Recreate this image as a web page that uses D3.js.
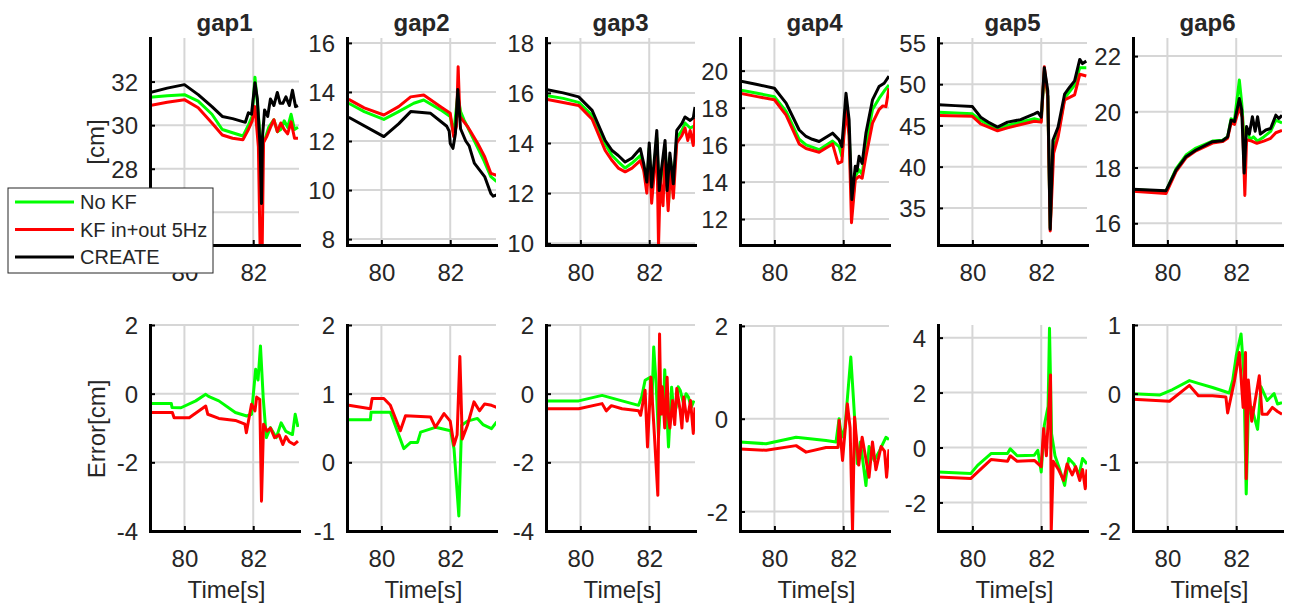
<!DOCTYPE html>
<html lang="en">
<head>
<meta charset="UTF-8">
<script src="https://d3js.org/d3.v7.min.js"></script>
<title>gap plots</title>
<style>
  body { margin: 0; background: #fff; }
  svg text { font-family: Arial, "Liberation Sans", sans-serif; fill: #262626; }
</style>
</head>
<body>
<svg id="chart" width="1290" height="610"></svg>
<script>
// ---- data (time [s], value) ----
const titles = ["gap1", "gap2", "gap3", "gap4", "gap5", "gap6"];
const xDomain = [79, 83.33];
const xTicks = [80, 82];

const topDomains = [[24.5, 34.0], [7.76, 16.2], [9.93, 18.19], [10.6, 21.76], [30.5, 55.6], [15.22, 22.65]];
const topTicks = [[26, 28, 30, 32], [8, 10, 12, 14, 16], [10, 12, 14, 16, 18], [12, 14, 16, 18, 20], [35, 40, 45, 50, 55], [16, 18, 20, 22]];
const botDomains = [[-4, 2], [-1, 2], [-4, 2], [-2.42, 2.02], [-3.04, 4.46], [-2, 1]];
const botTicks = [[-4, -2, 0, 2], [-1, 0, 1, 2], [-4, -2, 0, 2], [-2, 0, 2], [-2, 0, 2, 4], [-2, -1, 0, 1]];
// tick labels hidden behind the legend in the original
const hiddenTopLabels = [[26], [], [], [], [], []];

const legendLabels = ["No KF", "KF in+out 5Hz", "CREATE"];

// gap1
const gap1NoKF = [[79,31.28],[79.5,31.35],[80,31.4],[80.4,31.1],[80.8,30.5],[81.1,29.8],[81.4,29.65],[81.7,29.5],[81.86,30.0],[81.97,30.4],[82.05,32.2],[82.12,31.0],[82.2,29.5],[82.27,29.2],[82.35,29.4],[82.45,29.9],[82.6,30.25],[82.7,29.7],[82.8,29.8],[82.9,30.2],[83.0,29.9],[83.1,30.5],[83.2,29.8],[83.3,29.9]];
const gap1KF = [[79,30.9],[79.5,31.05],[80,31.17],[80.4,30.8],[80.8,30.1],[81.1,29.55],[81.4,29.4],[81.7,29.33],[81.86,29.8],[81.97,30.2],[82.05,30.85],[82.15,29.0],[82.2,24.3],[82.26,24.3],[82.3,29.2],[82.4,29.5],[82.5,29.9],[82.6,30.25],[82.7,29.7],[82.8,30.1],[82.9,29.8],[83.0,29.6],[83.1,30.15],[83.2,29.4],[83.3,29.4]];
const gap1Create = [[79,31.5],[79.5,31.7],[80,31.86],[80.4,31.4],[80.8,30.85],[81.1,30.4],[81.4,30.3],[81.77,30.13],[81.86,30.57],[81.95,30.5],[82.05,31.95],[82.12,31.2],[82.2,29.0],[82.24,26.4],[82.27,29.5],[82.33,30.7],[82.42,30.4],[82.5,31.2],[82.6,30.9],[82.7,31.5],[82.78,31.0],[82.86,31.0],[82.95,31.3],[83.05,30.9],[83.14,31.6],[83.23,30.85],[83.3,30.9]];
// gap2
const gap2NoKF = [[79.05,13.54],[79.5,13.2],[80.07,12.88],[80.5,13.2],[80.94,13.54],[81.23,13.67],[81.72,13.27],[82.0,13.0],[82.1,12.3],[82.22,13.9],[82.3,13.2],[82.4,12.86],[82.69,12.04],[82.98,11.2],[83.18,10.55],[83.35,10.35]];
const gap2KF = [[79.05,13.7],[79.5,13.35],[80.07,13.06],[80.5,13.4],[80.85,13.8],[81.23,13.88],[81.72,13.4],[82.0,13.13],[82.1,12.18],[82.18,12.6],[82.23,15.03],[82.28,13.0],[82.5,12.6],[82.8,11.9],[83.0,11.36],[83.18,10.68],[83.35,10.6]];
const gap2Create = [[79.05,12.97],[80.07,12.18],[80.5,12.7],[80.85,13.2],[81.43,13.13],[81.9,12.6],[81.97,12.4],[82.0,11.9],[82.08,11.7],[82.15,12.3],[82.22,14.1],[82.3,12.5],[82.45,12.0],[82.55,11.8],[82.7,11.1],[83.0,10.55],[83.18,9.86],[83.25,9.75],[83.35,9.8]];
// gap3
const gap3NoKF = [[79.0,15.9],[79.5,15.78],[79.95,15.62],[80.34,15.1],[80.72,13.95],[80.92,13.5],[81.1,13.25],[81.3,13.0],[81.5,13.2],[81.74,13.5],[81.84,13.0],[81.93,12.3],[82.0,13.8],[82.07,12.0],[82.14,13.0],[82.22,14.2],[82.29,11.9],[82.36,12.8],[82.46,13.8],[82.56,11.58],[82.62,13.3],[82.7,12.2],[82.8,14.2],[82.95,14.5],[83.04,14.8],[83.19,14.6],[83.33,14.7]];
const gap3KF = [[79.0,15.75],[79.5,15.62],[79.95,15.5],[80.34,14.95],[80.72,13.7],[80.92,13.3],[81.1,13.0],[81.3,12.85],[81.5,13.0],[81.74,13.3],[81.84,12.9],[81.93,12.0],[82.0,13.6],[82.07,11.6],[82.14,12.7],[82.22,14.1],[82.27,9.9],[82.32,12.5],[82.4,11.5],[82.46,13.6],[82.55,11.3],[82.62,13.0],[82.7,11.8],[82.8,14.0],[82.95,14.3],[83.04,14.6],[83.12,14.1],[83.19,14.5],[83.28,13.9],[83.33,15.0]];
const gap3Create = [[79.0,16.14],[79.5,16.0],[79.95,15.84],[80.34,15.3],[80.72,14.1],[80.92,13.7],[81.1,13.5],[81.3,13.24],[81.5,13.4],[81.74,13.78],[81.84,13.18],[81.93,12.44],[82.0,14.0],[82.07,12.24],[82.14,13.2],[82.22,14.5],[82.29,12.1],[82.36,13.0],[82.46,14.1],[82.52,12.1],[82.6,13.6],[82.7,12.37],[82.8,14.5],[82.95,14.78],[83.04,15.04],[83.19,14.9],[83.28,15.0],[83.33,15.44]];
// gap4
const gap4NoKF = [[78.99,18.96],[79.5,18.78],[80,18.6],[80.34,17.8],[80.72,16.3],[80.92,16.0],[81.3,15.74],[81.69,16.2],[81.88,15.9],[81.96,15.38],[82.08,18.07],[82.17,16.8],[82.25,12.5],[82.35,14.3],[82.46,14.66],[82.55,14.4],[82.66,16.0],[82.85,17.9],[83.04,18.5],[83.19,18.9],[83.33,19.23]];
const gap4KF = [[78.99,18.78],[79.5,18.6],[80,18.43],[80.34,17.6],[80.72,16.05],[80.92,15.8],[81.3,15.6],[81.69,16.05],[81.85,15.0],[81.96,15.1],[82.08,17.9],[82.17,16.5],[82.24,11.8],[82.35,14.13],[82.46,14.3],[82.55,14.2],[82.66,15.38],[82.85,17.17],[83.04,17.9],[83.15,18.1],[83.24,18.06],[83.33,19.05]];
const gap4Create = [[78.99,19.45],[79.5,19.25],[80,19.05],[80.34,18.25],[80.72,16.8],[80.92,16.45],[81.1,16.3],[81.3,16.18],[81.69,16.63],[81.88,16.27],[81.96,15.9],[82.08,18.78],[82.17,17.35],[82.25,13.05],[82.35,14.84],[82.4,14.6],[82.46,15.38],[82.55,15.0],[82.66,16.63],[82.85,18.42],[83.04,19.14],[83.19,19.32],[83.33,19.7]];
// gap5
const gap5NoKF = [[79.02,46.6],[80,46.4],[80.24,45.6],[80.73,44.5],[81.02,45.0],[81.8,45.8],[82.0,45.6],[82.09,51.5],[82.19,48.5],[82.26,32.6],[82.34,42.0],[82.49,44.0],[82.68,48.3],[82.97,49.9],[83.12,52.0],[83.31,52.0]];
const gap5KF = [[79.02,46.2],[80,46.1],[80.24,45.2],[80.73,44.35],[81.02,44.7],[81.8,45.5],[82.0,45.4],[82.09,52.1],[82.19,48.5],[82.26,32.2],[82.36,41.6],[82.49,43.6],[82.68,48.1],[82.97,48.7],[83.12,51.2],[83.31,51.0]];
const gap5Create = [[79.02,47.5],[79.5,47.4],[80,47.28],[80.24,46.0],[80.5,45.3],[80.73,44.8],[81.02,45.4],[81.4,45.7],[81.8,46.4],[81.9,46.6],[82.0,46.0],[82.09,52.0],[82.19,49.2],[82.26,32.4],[82.34,43.2],[82.49,44.8],[82.68,48.8],[82.82,49.6],[82.97,50.4],[83.12,53.0],[83.2,52.5],[83.31,52.8]];
// gap6
const gap6NoKF = [[78.99,17.2],[79.96,17.15],[80.25,17.95],[80.54,18.45],[80.83,18.7],[81.31,18.95],[81.6,18.98],[81.75,19.1],[81.85,19.75],[81.95,19.7],[82.09,21.14],[82.16,20.3],[82.23,19.0],[82.3,19.4],[82.4,19.0],[82.5,19.1],[82.62,18.95],[82.8,19.1],[83.0,19.3],[83.15,19.7],[83.33,19.6]];
const gap6KF = [[78.99,17.15],[79.96,17.07],[80.25,17.85],[80.54,18.35],[80.83,18.6],[81.31,18.88],[81.6,18.93],[81.75,19.05],[81.85,19.6],[81.95,19.55],[82.09,20.15],[82.18,19.8],[82.25,17.0],[82.3,19.0],[82.45,18.95],[82.6,18.87],[82.8,18.95],[83.0,19.05],[83.15,19.25],[83.33,19.33]];
const gap6Create = [[78.99,17.22],[79.96,17.17],[80.25,17.91],[80.54,18.39],[80.83,18.63],[81.31,18.93],[81.6,18.96],[81.75,19.1],[81.85,19.7],[81.95,19.65],[82.09,20.48],[82.16,20.06],[82.23,17.8],[82.3,19.47],[82.38,19.2],[82.47,19.82],[82.55,19.3],[82.62,19.82],[82.7,19.2],[82.86,19.35],[83.0,19.4],[83.15,19.88],[83.24,19.76],[83.33,19.88]];

// errors
const err1NoKF = [[79,-0.29],[79.62,-0.29],[79.64,-0.4],[79.9,-0.41],[80.33,-0.21],[80.62,-0.02],[80.7,-0.08],[81.0,-0.21],[81.48,-0.55],[81.81,-0.65],[81.95,-0.6],[82.07,0.71],[82.14,0.4],[82.21,1.39],[82.29,-0.12],[82.38,-1.28],[82.5,-0.99],[82.67,-1.28],[82.81,-0.85],[82.95,-1.1],[83.14,-1.19],[83.22,-0.6],[83.3,-0.97]];
const err1KF = [[79,-0.55],[79.65,-0.55],[79.7,-0.7],[80.14,-0.7],[80.62,-0.36],[80.68,-0.6],[81.0,-0.72],[81.48,-0.78],[81.76,-0.89],[81.8,-1.14],[81.95,-0.31],[82.05,-0.5],[82.1,-0.1],[82.19,-0.17],[82.24,-3.13],[82.3,-0.89],[82.4,-1.09],[82.5,-1.0],[82.62,-1.28],[82.75,-1.2],[82.86,-1.48],[82.95,-1.25],[83.05,-1.4],[83.19,-1.48],[83.3,-1.38]];
const err2NoKF = [[79.05,0.62],[79.68,0.62],[79.7,0.73],[80.26,0.73],[80.65,0.2],[80.85,0.29],[81.05,0.29],[81.14,0.44],[81.57,0.51],[82.01,0.46],[82.11,0.2],[82.25,-0.78],[82.33,0.54],[82.5,0.6],[82.79,0.64],[82.95,0.55],[83.2,0.49],[83.35,0.59]];
const err2KF = [[79.05,0.83],[79.68,0.78],[79.73,0.93],[80.07,0.93],[80.26,0.83],[80.55,0.46],[80.7,0.68],[81.43,0.66],[81.57,0.51],[81.82,0.71],[82.0,0.6],[82.11,0.25],[82.2,0.4],[82.28,1.54],[82.35,0.34],[82.5,0.54],[82.69,0.88],[82.85,0.75],[83.0,0.85],[83.2,0.83],[83.35,0.8]];
const err3NoKF = [[78.99,-0.21],[79.95,-0.21],[80.63,-0.05],[81.21,-0.21],[81.69,-0.34],[81.78,-0.1],[81.88,0.39],[82.03,0.48],[82.08,-0.2],[82.13,1.36],[82.2,0.3],[82.27,-1.26],[82.35,0.1],[82.41,-0.6],[82.45,0.7],[82.5,-0.3],[82.56,-1.55],[82.65,0.19],[82.72,-0.6],[82.78,-0.4],[82.84,0.2],[82.9,0.1],[83.0,-0.3],[83.07,0.0],[83.14,-0.1],[83.22,-0.4],[83.3,-0.2]];
const err3KF = [[78.99,-0.44],[79.95,-0.44],[80.63,-0.29],[80.75,-0.5],[80.9,-0.35],[81.21,-0.44],[81.69,-0.5],[81.75,-0.63],[81.88,0.1],[81.95,-1.55],[82.05,0.48],[82.15,-1.2],[82.25,-2.96],[82.3,1.74],[82.34,-0.6],[82.38,0.2],[82.45,-1.0],[82.52,0.48],[82.56,-0.7],[82.6,-1.0],[82.68,-0.2],[82.74,-0.9],[82.8,0.15],[82.9,-0.5],[82.95,-1.0],[83.0,-0.1],[83.1,-0.8],[83.2,-0.2],[83.28,-1.16],[83.33,-0.4]];
const err4NoKF = [[78.99,-0.5],[79.76,-0.54],[80.63,-0.4],[81.5,-0.47],[81.79,-0.5],[81.88,0],[81.95,-0.4],[82.05,-0.2],[82.22,1.33],[82.3,0.39],[82.41,-0.97],[82.5,-0.5],[82.66,-1.44],[82.75,-0.6],[82.9,-0.9],[83.05,-0.7],[83.24,-0.4],[83.33,-0.45]];
const err4KF = [[78.99,-0.65],[79.76,-0.68],[80.63,-0.58],[80.92,-0.72],[81.5,-0.62],[81.85,-0.62],[81.88,-0.04],[81.98,-0.9],[82.12,0.32],[82.2,-0.2],[82.27,-2.41],[82.33,0.03],[82.45,-1.0],[82.55,-0.4],[82.75,-1.26],[82.85,-0.5],[82.95,-1.1],[83.1,-0.6],[83.2,-0.7],[83.26,-1.26],[83.33,-0.66]];
const err5NoKF = [[78.98,-0.89],[79.95,-0.95],[80.15,-0.65],[80.54,-0.22],[81.02,-0.22],[81.1,-0.05],[81.3,-0.3],[81.8,-0.28],[81.9,-0.1],[82.0,-0.89],[82.09,0.81],[82.2,1.5],[82.24,4.34],[82.3,0.5],[82.4,-0.3],[82.53,-0.77],[82.68,-1.38],[82.8,-0.4],[82.95,-0.6],[83.1,-1.0],[83.2,-0.4],[83.33,-0.6]];
const err5KF = [[78.98,-1.07],[79.95,-1.13],[80.15,-0.9],[80.54,-0.44],[81.02,-0.5],[81.1,-0.3],[81.3,-0.5],[81.8,-0.47],[82.0,-0.7],[82.07,0.69],[82.15,-0.3],[82.27,2.64],[82.29,-3.08],[82.35,-0.5],[82.5,-0.8],[82.65,-1.2],[82.75,-0.6],[82.9,-1.0],[83.0,-0.7],[83.12,-1.2],[83.2,-0.8],[83.28,-1.5],[83.33,-0.8]];
const err6NoKF = [[78.99,0],[79.77,-0.02],[80.15,0.06],[80.64,0.19],[80.9,0.15],[81.31,0.09],[81.8,0.01],[81.9,0.2],[82.0,0.55],[82.14,0.87],[82.22,0.3],[82.29,-1.46],[82.35,-0.3],[82.45,-0.2],[82.62,-0.52],[82.72,0.1],[82.9,-0.1],[83.1,0.0],[83.2,-0.15],[83.33,-0.13]];
const err6KF = [[78.99,-0.08],[80.06,-0.11],[80.64,0.12],[80.9,-0.03],[81.31,-0.03],[81.7,-0.05],[81.75,-0.28],[81.95,0.19],[82.09,0.6],[82.2,-0.2],[82.27,0.6],[82.29,-1.24],[82.35,0.2],[82.45,-0.4],[82.67,0.26],[82.75,-0.3],[82.9,-0.3],[83.05,-0.2],[83.2,-0.26],[83.33,-0.3]];

const topSeries = [
  [gap1NoKF, gap1KF, gap1Create], [gap2NoKF, gap2KF, gap2Create], [gap3NoKF, gap3KF, gap3Create],
  [gap4NoKF, gap4KF, gap4Create], [gap5NoKF, gap5KF, gap5Create], [gap6NoKF, gap6KF, gap6Create]
];
const botSeries = [
  [err1NoKF, err1KF], [err2NoKF, err2KF], [err3NoKF, err3KF],
  [err4NoKF, err4KF], [err5NoKF, err5KF], [err6NoKF, err6KF]
];

// ---- layout ----
const colors = ["#00ff00", "#ff0000", "#000000"];
const colLeft = [150, 347, 546, 740, 938, 1133];
const colW = 149;
const rowTop = [38, 325];
const rowBot = [245, 531];
const fmt = d => String(d);   // plain hyphen minus like the original

const svg = d3.select("#chart");

function drawPanel(col, row, domain, ticks, series, hidden) {
  const x0 = colLeft[col], y0 = rowTop[row], h = rowBot[row] - rowTop[row];
  const x = d3.scaleLinear().domain(xDomain).range([0, colW]);
  const y = d3.scaleLinear().domain(domain).range([h, 0]);
  const g = svg.append("g").attr("transform", "translate(" + x0 + "," + y0 + ")");
  const cid = "clip" + row + "_" + col;

  g.append("clipPath").attr("id", cid).append("rect")
    .attr("x", 0).attr("y", 0).attr("width", colW).attr("height", h);

  // grid
  g.selectAll(".gy").data(ticks).enter().append("line")
    .attr("x1", 0).attr("x2", colW)
    .attr("y1", d => y(d)).attr("y2", d => y(d))
    .attr("stroke", "#d6d6d6").attr("stroke-width", 2);
  g.selectAll(".gx").data(xTicks).enter().append("line")
    .attr("x1", d => x(d)).attr("x2", d => x(d))
    .attr("y1", 0).attr("y2", h)
    .attr("stroke", "#d6d6d6").attr("stroke-width", 2);

  // lines
  const line = d3.line().x(d => x(d[0])).y(d => y(d[1]));
  const lines = g.append("g").attr("clip-path", "url(#" + cid + ")");
  series.forEach((s, i) => {
    lines.append("path").datum(s)
      .attr("d", line)
      .attr("fill", "none")
      .attr("stroke", colors[i])
      .attr("stroke-width", 3)
      .attr("stroke-linejoin", "round");
  });

  // axes
  const labelTicks = ticks.filter(t => hidden.indexOf(t) < 0);
  const ax = g.append("g")
    .call(d3.axisLeft(y).tickValues(labelTicks).tickSizeInner(-5).tickSizeOuter(0).tickPadding(12).tickFormat(fmt));
  const bx = g.append("g").attr("transform", "translate(0," + h + ")")
    .call(d3.axisBottom(x).tickValues(xTicks).tickSizeInner(-5).tickSizeOuter(0).tickPadding(19).tickFormat(fmt));
  [ax, bx].forEach(a => {
    a.attr("font-size", null).attr("font-family", null);
    a.select(".domain").attr("stroke", "#000").attr("stroke-width", 3).attr("stroke-linecap", "square");
    a.selectAll(".tick line").attr("stroke", "#000").attr("stroke-width", 2);
    a.selectAll(".tick text").style("font-size", "24px").attr("fill", "#262626");
  });
  ax.selectAll(".tick text").attr("dy", "0.36em");

  if (row === 0) {
    g.append("text")
      .attr("x", colW / 2).attr("y", 31 - y0)
      .attr("text-anchor", "middle")
      .style("font-size", "24px").style("font-weight", "bold")
      .attr("fill", "#000")
      .text(titles[col]);
  } else {
    g.append("text")
      .attr("x", colW / 2 + 2).attr("y", 598 - y0)
      .attr("text-anchor", "middle")
      .style("font-size", "24px")
      .text("Time[s]");
  }
}

for (let c = 0; c < 6; c++) {
  drawPanel(c, 0, topDomains[c], topTicks[c], topSeries[c], hiddenTopLabels[c]);
  drawPanel(c, 1, botDomains[c], botTicks[c], botSeries[c], []);
}

// y labels
svg.append("text")
  .attr("transform", "translate(96,142) rotate(-90)")
  .attr("text-anchor", "middle").attr("dy", "0.35em")
  .style("font-size", "24px")
  .text("[cm]");
svg.append("text")
  .attr("transform", "translate(97,429) rotate(-90)")
  .attr("text-anchor", "middle").attr("dy", "0.35em")
  .style("font-size", "24px")
  .text("Error[cm]");

// legend
const leg = svg.append("g").attr("transform", "translate(8,188)");
leg.append("rect").attr("width", 205).attr("height", 85)
  .attr("fill", "#fff").attr("stroke", "#262626").attr("stroke-width", 1);
legendLabels.forEach((lab, i) => {
  const yy = 14 + i * 27.5;
  leg.append("line").attr("x1", 7).attr("x2", 66).attr("y1", yy).attr("y2", yy)
    .attr("stroke", colors[i]).attr("stroke-width", 3);
  leg.append("text").attr("x", 72).attr("y", yy).attr("dy", "0.36em")
    .style("font-size", "20px").attr("fill", "#000").text(lab);
});
</script>
</body>
</html>
